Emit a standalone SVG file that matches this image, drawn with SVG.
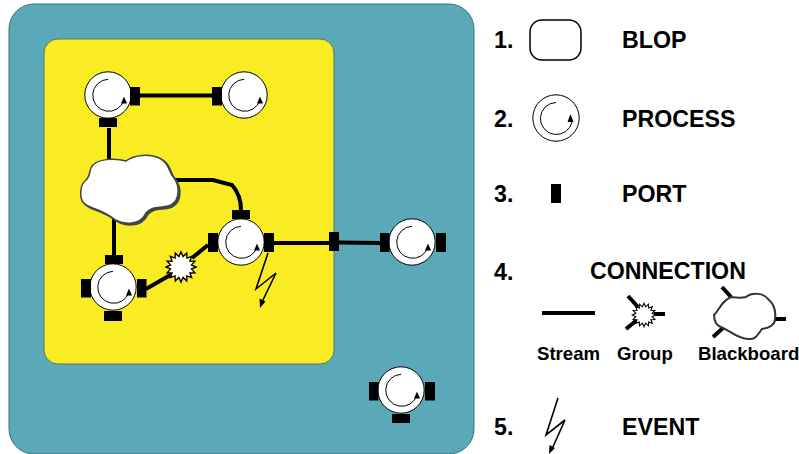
<svg xmlns="http://www.w3.org/2000/svg" xmlns:xlink="http://www.w3.org/1999/xlink" width="799" height="454" viewBox="0 0 799 454">
<style>
text{font-family:"Liberation Sans",Arial,sans-serif;font-weight:700;fill:#000}
.h{font-size:23.200px}.s{font-size:18.600px}
.c{fill:none;stroke:#000;stroke-width:4}
.p{fill:#000}
.ring{fill:#fff;stroke:#000;stroke-width:1}
.arc{fill:none;stroke:#000;stroke-width:1}
.ev{fill:none;stroke:#000;stroke-width:1.600}
.cl{fill:#fff;stroke:#444;stroke-width:1.500}
.sh{fill:#444;stroke:#444;stroke-width:2}
</style>
<defs>
<g id="proc">
<circle class="ring" r="23.200"/>
<path class="arc" d="M0 -15.700A16 16 0 1 0 16 5"/>
<path class="p" d="M16 1.500L19 8.500L13 8.500Z"/>
</g>
<path id="cloud" d="M91 168C95 158 116 158 126 161C134 155 150 153 161 159C170 164 168 172 174 178C180 186 180 200 171 205C162 209 152 205 146 213C140 226 122 226 110 216C98 208 88 208 84 203C79 199 80 185 85 181C90 177 89 173 91 168Z"/>
<polygon id="star" points="15,0 10.500,2.100 13.860,5.740 8.900,5.950 10.610,10.610 5.950,8.900 5.740,13.860 2.100,10.500 0,15 -2.100,10.500 -5.740,13.860 -5.950,8.900 -10.610,10.610 -8.900,5.950 -13.860,5.740 -10.500,2.100 -15,0 -10.500,-2.100 -13.860,-5.740 -8.900,-5.950 -10.610,-10.610 -5.950,-8.900 -5.740,-13.860 -2.100,-10.500 0,-15 2.100,-10.500 5.740,-13.860 5.950,-8.900 10.610,-10.610 8.900,-5.950 13.860,-5.740 10.500,-2.100"/>
</defs>
<g id="blop-outer"><rect x="9" y="4" width="465" height="450" rx="25" fill="#5ba8b8" stroke="#3f6f7a" stroke-width="1"/></g>
<g id="blop-inner"><rect x="44" y="39" width="290" height="325" rx="14" fill="#f9ec23" stroke="#55796a" stroke-width="1"/></g>
<g id="connectors">
<path class="c" d="M140 95.500H212"/>
<path class="c" d="M109 128V160"/>
<path class="c" d="M114 218V255"/>
<path class="c" d="M173 180H213L232 185Q241 195 241 210"/>
<path class="c" d="M146 289L172 274"/>
<path class="c" d="M192 258L208 245"/>
<path class="c" d="M274 243H329"/>
<path class="c" d="M339 242.500L380 243"/>
</g>
<g id="blackboard">
<use href="#cloud" class="sh" x="1.500" y="1.500"/>
<use href="#cloud" class="cl"/>
</g>
<g id="group-star"><use href="#star" x="181" y="267" fill="#fff" stroke="#000" stroke-width="1.400"/></g>
<g id="process-a">
<use href="#proc" x="108" y="95"/>
<rect class="p" x="130" y="87" width="10" height="18.500"/>
<rect class="p" x="99" y="118" width="18" height="9"/>
</g>
<g id="process-b">
<use href="#proc" x="244" y="95"/>
<rect class="p" x="212" y="87" width="10" height="18.500"/>
</g>
<g id="process-c">
<use href="#proc" x="113" y="287"/>
<rect class="p" x="105" y="255" width="18" height="9"/>
<rect class="p" x="81" y="279" width="10" height="18.500"/>
<rect class="p" x="137" y="279" width="9.500" height="18.500"/>
<rect class="p" x="104" y="311" width="18" height="10"/>
</g>
<g id="process-d">
<use href="#proc" x="241" y="242"/>
<rect class="p" x="232" y="210" width="18" height="9"/>
<rect class="p" x="208" y="233" width="10" height="19"/>
<rect class="p" x="264" y="233" width="10" height="19"/>
</g>
<g id="port-border"><rect class="p" x="329" y="232" width="10" height="19"/></g>
<g id="process-e">
<use href="#proc" x="412" y="242"/>
<rect class="p" x="380" y="233" width="9.500" height="19"/>
<rect class="p" x="436" y="233" width="10" height="19"/>
</g>
<g id="process-f">
<use href="#proc" x="401" y="390"/>
<rect class="p" x="369" y="382" width="9.500" height="18.500"/>
<rect class="p" x="425" y="382" width="10" height="18.500"/>
<rect class="p" x="392" y="414" width="18" height="9"/>
</g>
<g id="event-main">
<path class="ev" d="M268 253L256 289L276 273L262 302"/>
<path class="p" d="M260 308L259.500 298.500L265.500 301.500Z"/>
</g>
<g id="legend-1">
<text class="h" x="494" y="48">1.</text>
<rect x="530" y="20" width="51" height="40" rx="12" fill="#fff" stroke="#000" stroke-width="1.500"/>
<text class="h" x="622" y="48">BLOP</text>
</g>
<g id="legend-2">
<text class="h" x="494" y="127">2.</text>
<circle class="ring" cx="556" cy="118" r="23.200"/>
<path class="arc" d="M556 102.500A16 16 0 1 0 572 122"/>
<path class="p" d="M570.500 114L573.500 122L567.500 122Z"/>
<text class="h" x="622" y="127">PROCESS</text>
</g>
<g id="legend-3">
<text class="h" x="494" y="202">3.</text>
<rect class="p" x="551" y="184" width="10" height="19"/>
<text class="h" x="622" y="202">PORT</text>
</g>
<g id="legend-4">
<text class="h" x="494" y="280">4.</text>
<text class="h" x="590" y="279">CONNECTION</text>
<path class="c" d="M542 313H595"/>
<text class="s" x="537" y="360">Stream</text>
<path class="c" d="M628 296L638 307M626 329L637 320M654 314H665"/>
<use href="#star" transform="translate(644 315) scale(.78)" fill="#fff" stroke="#000" stroke-width="1.400"/>
<text class="s" x="617" y="360">Group</text>
<path class="c" d="M722 287L731 297M713 337L723 328M775 319H786"/>
<path d="M731 297C738 298 742 298 746 297C752 292 764 293 768 299C774 304 776 312 775 319C775 326 768 328 762 329C758 334 756 340 748 339C738 339 732 332 723 328C716 326 714 320 714 315C720 310 720 302 731 297Z" fill="#fff" stroke="#333" stroke-width="2"/>
<text class="s" x="698" y="360">Blackboard</text>
</g>
<g id="legend-5">
<text class="h" x="494" y="435">5.</text>
<path class="ev" d="M558 398L546 435L565 420L552 449"/>
<path class="p" d="M549 454L549.500 445L555 448Z"/>
<text class="h" x="622" y="435">EVENT</text>
</g>
</svg>
